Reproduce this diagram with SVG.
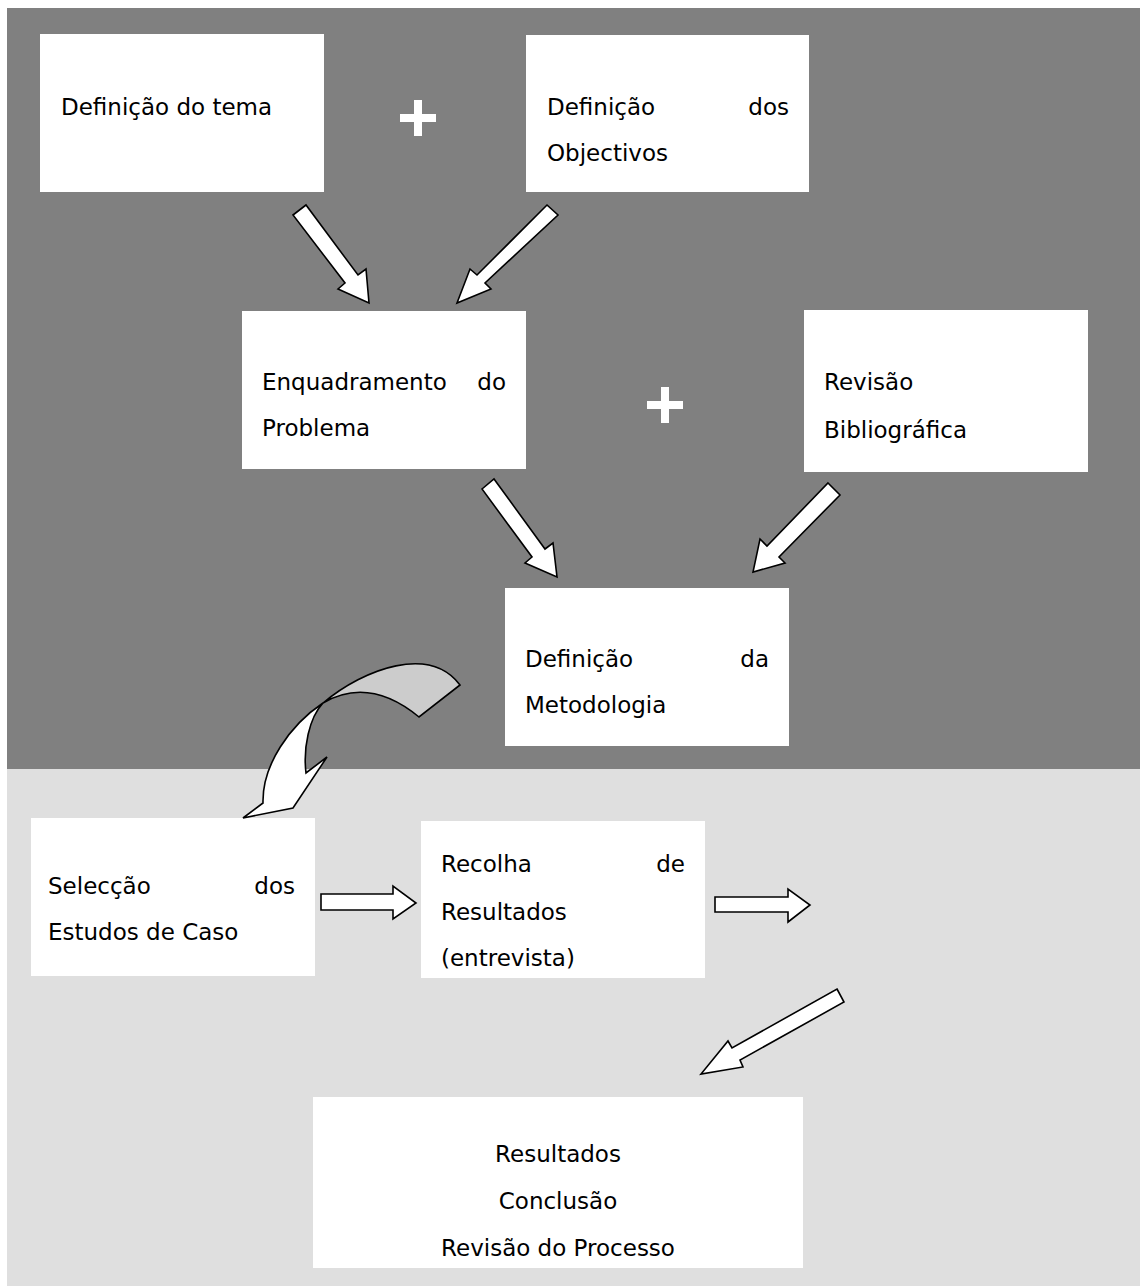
<svg xmlns="http://www.w3.org/2000/svg" width="1140" height="1286" viewBox="0 0 1140 1286">
<style>
.box{fill:#ffffff}
.t{font-family:"DejaVu Sans",Verdana,sans-serif;font-size:23px;fill:#000}
.e{text-anchor:end}
.m{text-anchor:middle}
.arr{fill:#ffffff;stroke:#000;stroke-width:1.6;stroke-linejoin:miter}
.plus{fill:#ffffff}
</style>
<rect x="7" y="8" width="1133" height="761" fill="#808080"/>
<rect x="7" y="769" width="1133" height="517" fill="#dfdfdf"/>

<g id="n1"><rect class="box" x="40" y="34" width="284" height="158"/>
<text class="t" x="61" y="115">Definição do tema</text></g>
<g id="n2"><rect class="box" x="526" y="35" width="283" height="157"/>
<text class="t" x="547" y="115">Definição</text><text class="t e" x="789" y="115">dos</text>
<text class="t" x="547" y="161">Objectivos</text></g>
<g id="n3"><rect class="box" x="242" y="311" width="284" height="158"/>
<text class="t" x="262" y="390">Enquadramento</text><text class="t e" x="506" y="390">do</text>
<text class="t" x="262" y="436">Problema</text></g>
<g id="n4"><rect class="box" x="804" y="310" width="284" height="162"/>
<text class="t" x="824" y="390">Revisão</text>
<text class="t" x="824" y="438">Bibliográfica</text></g>
<g id="n5"><rect class="box" x="505" y="588" width="284" height="158"/>
<text class="t" x="525" y="667">Definição</text><text class="t e" x="769" y="667">da</text>
<text class="t" x="525" y="713">Metodologia</text></g>
<g id="n6"><rect class="box" x="31" y="818" width="284" height="158"/>
<text class="t" x="48" y="894">Selecção</text><text class="t e" x="295" y="894">dos</text>
<text class="t" x="48" y="940">Estudos de Caso</text></g>
<g id="n7"><rect class="box" x="421" y="821" width="284" height="157"/>
<text class="t" x="441" y="872">Recolha</text><text class="t e" x="685" y="872">de</text>
<text class="t" x="441" y="920">Resultados</text>
<text class="t" x="441" y="966">(entrevista)</text></g>
<g id="n8"><rect class="box" x="313" y="1097" width="490" height="171"/>
<text class="t m" x="558" y="1162">Resultados</text>
<text class="t m" x="558" y="1209">Conclusão</text>
<text class="t m" x="558" y="1256">Revisão do Processo</text></g>

<g id="plus1" class="plus"><rect x="400" y="114" width="36" height="8"/><rect x="414" y="100" width="8" height="36"/></g>
<g id="plus2" class="plus"><rect x="647" y="401" width="36" height="8"/><rect x="661" y="387" width="8" height="36"/></g>

<g id="connectors">
<polygon class="arr" points="293,215 306,205 358,275 366,269 369,303 338,289 345,283"/>
<polygon class="arr" points="547,205 558,215 485,283 491,289 457,303 470,269 477,275"/>
<polygon class="arr" points="482,489 494,479 545,549 553,543 557,577 525,563 532,557"/>
<polygon class="arr" points="828,483 840,495 779,557 785,563 753,572 760,539 767,546"/>
<path d="M323,703 C365,668 430,645 460,685 L419,717 Q369,676 323,703 Z" fill="#cccccc" stroke="#000" stroke-width="1.6"/>
<path class="arr" d="M323,703 C290,725 262,765 263,803 L243,818 L293,808 L327,757 L306,773 C303,748 309,718 323,703 Z"/>
<polygon class="arr" points="321,894 393,894 393,886 416,903 393,919 393,910 321,910"/>
<polygon class="arr" points="715,897 788,897 788,889 810,905 788,922 788,912 715,912"/>
<polygon class="arr" points="837,989 844,1002 740,1060 743,1067 701,1074 728,1041 732,1048"/>
</g>
</svg>
